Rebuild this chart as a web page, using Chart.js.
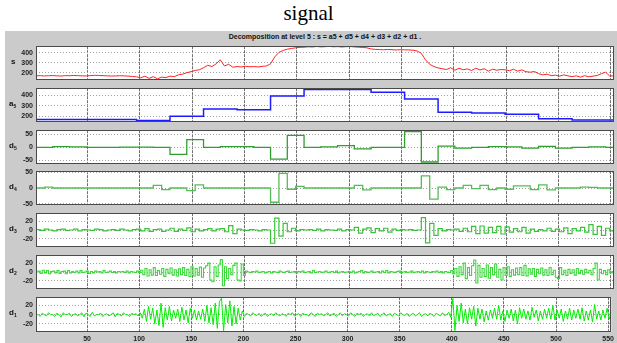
<!DOCTYPE html>
<html>
<head>
<meta charset="utf-8">
<script src="https://cdn.jsdelivr.net/npm/chart.js@4.4.1/dist/chart.umd.min.js"></script>
<style>
  body { margin: 0; width: 617px; height: 343px; position: relative; overflow: hidden; background: #fff; font-family: "Liberation Sans", Arial, sans-serif; }
  #title { position: absolute; left: 0; top: 0; width: 617px; text-align: center; font-family: "Liberation Serif", "Times New Roman", serif; font-size: 21px; line-height: 26px; }
  #panel { position: absolute; left: 5px; top: 31px; width: 612px; height: 312px; background: #cbcbcb; }
  #sub { position: absolute; left: 0; top: 32px; width: 650px; text-align: center; font-size: 7px; font-weight: bold; color: #111; line-height: 10px; }
  .box { position: absolute; left: 0; }
  .lab { position: absolute; font-weight: bold; font-size: 8px; color: #111; line-height: 8px; }
  .lab sub { font-size: 5px; vertical-align: -2px; }
</style>
</head>
<body>
<div id="title">signal</div>
<div id="panel"></div>
<div id="sub">Decomposition at level 5 : s = a5 + d5 + d4 + d3 + d2 + d1 .</div>
<div id="charts"></div>
<script>
// x axis: sample index
const xMin = 1;
const xMax = 553;
const xTicks = [50, 100, 150, 200, 250, 300, 350, 400, 450, 500, 550];

// signal s, one value every 4 samples (x = 1, 5, 9, ...)
const sStep = 4;
const sValues = [
  168, 170, 167, 169, 171, 168, 166, 170, 169, 172, 170, 168, 167, 171, 173, 172, 170, 168, 166, 167, 169, 168, 165, 162,
  158, 148, 165, 142, 160, 138, 155, 150,
  165, 160, 178, 185, 200, 210, 222, 230,
  250, 275, 262, 290, 330, 268, 285, 255,
  262, 258, 265, 260, 262, 258, 264, 268,
  290, 360, 405, 425, 438, 445, 452, 456,
  458, 462, 460, 465, 461, 463, 466, 462, 464, 460, 463, 465, 461, 458, 455, 452,
  440, 436, 434, 432, 435, 433, 430, 432,
  432, 430, 428, 420, 395, 330, 285, 262,
  248, 240, 232, 250, 225, 245, 230, 238,
  222, 245, 228, 240, 215, 235, 225, 232,
  230, 220, 235, 215, 228, 210, 205, 212,
  190, 178, 185, 170, 175, 165, 178, 168,
  160, 168, 155, 170, 158, 165, 172, 190, 205, 165, 170
];

// approximation a5, one value per 32-sample block
const a5Block = 32;
const a5Values = [168, 168, 168, 157, 198, 268, 262, 395, 458, 458, 432, 366, 238, 230, 218, 174, 163, 163];

// detail d5, one value per 16-sample block
const d5Block = 16;
const d5Values = [
  0, 3, 2, 0, 0, 1, 1, 0, -27, 30, 0, 3, 3, 0, -46, 47, 0, 2,
  7, -6, 0, 0, 62, -57, 5, -3, 0, 3, 2, -3, 4, -3, 0, 2, 0
];

// detail d4, one value per 8-sample block
const d4Block = 8;
const d4Values = [
  0, 3, 0, 0, 0, 0, 0, 0, 0, 0, 0, 0, 0, 0, 8, -5,
  0, 0, -8, 10, 0, 0, 0, 0, 0, 0, 0, 0, -45, 46, -4, 5,
  0, 0, 0, 0, 0, 0, 8, -6, 0, 0, 0, 0, 0, 0, 38, -35,
  3, -5, 0, 8, -2, 8, -5, 0, -4, 7, 7, -5, 10, -6, 0, 0,
  0, 3, 2, 0, 0, 0
];

// detail d3, one value per 4-sample block
const d3Block = 4;
const d3Values = [
  1, -1, 2, 0, -2, 1, 2, -1, 0, 2, -2, 1, 0, -1, 2, 1, -2, 0, 1, -1, 2, 0, -2, 1,
  2, -2, 3, -3, 1, 2, -3, 0, 4, -3, 2, -1,
  5, -4, 2, -2, 1, 3, -2, 2, 3, -4, 10, -8,
  2, 0, -1, 1, 0, -2, 1, 0,
  -30, 27, -14, 15, -4, 4, -2, 1,
  0, 1, -1, 2, -2, 1, 0, -1, 2, -2, 1, 0,
  6, -7, 2, 5, -6, 3, -2, 4, -5, 2, -1, 1,
  0, 1, -1, 0,
  28, -29, 15, -12, 3, -2, 1, 0,
  2, -3, 4, -4, 8, -8, 9, -7, 6, -6, 8, -9,
  7, -5, 3, -4, 6, -7, 2, -3, 1, -2, 4, -3,
  2, -4, 5, -8, 3, -2, 6, -5, 12, -10, 8, -12, 4, -2, 0
];

// detail d2, one value per 2-sample block
const d2Block = 2;
const d2Values = [
  0, 2, -3, 4, -2, 3, -4, 1, 2, -2,   3, -3, 1, 2, -4, 3, -2, 1, -1, 2,
  -2, 3, -1, 0, 2, -3, 1, -2, 2, 0,   1, -2, 3, -1, 0, 2, -1, 1, -2, 1,
  0, 1, -1, 2, -2, 1, 0, -1, 2, -1,   4, -6, 8, -9, 5, -7, 10, -8, 3, -5,
  8, -10, 6, -4, 9, -7, 5, -9, 7, -6,   10, -8, 6, -10, 12, -9, 8, -7, 11, -12,
  9, 14, 20, -18, -22, 12, -10, 16, 28, -31,   12, -15, 8, -6, 15, 20, -18, -20, 18, -8,
  2, 0, -1, 1, 0, 2, -1, 0, 1, -2,   0, 1, -2, 1, 0, -1, 2, 0, -1, 1,
  2, -1, 0, 1, -2, 1, 0, 2, -1, 0,   1, -2, 3, -1, 0, 1, -1, 0, 2, -1,
  0, 1, -1, 2, -2, 0, 1, -1, 0, 1,   -1, 2, -2, 0, 1, 3, -2, 1, -1, 0,
  2, -1, 0, 1, -2, 2, -1, 3, -2, 1,   0, -1, 1, 2, -2, 0, 1, -1, 0, 2,
  -1, 0, 1, -1, 2, -2, 1, 0, -1, 1,   0, 2, -1, 1, -2, 1, 0, -1, 3, -4,
  8, -10, 12, -6, 20, -15, 10, -8, 14, 27,   -25, 15, -12, 8, -10, 16, -14, 10, -6, 18,
  -12, 6, -18, 10, -8, 12, -10, 5, -7, 9,   -6, 10, -8, 15, -9, 7, -5, 8, -10, 6,
  -4, 9, -7, 5, -8, 10, -6, 4, -12, -15,   10, -6, 4, -8, 6, -3, 5, -7, 8, -4,
  3, -5, 6, -2, 4, -6, 8, 20, -18, 6,   -4, 3, -6, 5, -2, 1, -3
];

// detail d1, one value every 2 samples (x = 1, 3, 5, ...)
const d1Step = 2;
const d1Values = [
  0, 0, -4, 3, 0, -3, 4, 0, 0, -4,   3, 0, -5, 4, 0, 0, 3, -4, 0, 2,
  -3, 0, 4, -5, 3, 0, -4, 5, -3, 0,   0, 3, -4, 0, 2, -3, 0, 4, -5, 3,
  0, -3, 4, 0, 0, -4, 3, 0, 2, -3,   4, -8, 12, -15, 18, -10, 14, -20, 10, -24,
  25, -28, 15, -12, 18, -14, 10, -8, 12, -15,   16, -12, 10, -18, 14, -8, 10, -12, 8, -10,
  12, -15, 20, -18, 15, -22, 25, -30, 28, 36,   -35, 22, -18, 30, -25, 18, -20, 14, -12, 8,
  -4, 3, 0, -3, 4, 0, -2, 3, -4, 0,   3, -4, 0, 2, -3, 4, 0, -3, 2, 0,
  -4, 3, 0, 4, -3, 0, 2, -4, 3, 0,   0, -3, 4, 0, -4, 3, 0, 2, -3, 0,
  4, -3, 0, 3, -4, 0, 4, -3, 2, 0,   -3, 4, 0, -4, 3, 0, 3, -4, 0, 2,
  -3, 4, -2, 0, 3, -4, 0, 4, -3, 0,   2, -4, 3, 0, -3, 4, 0, -2, 3, -4,
  0, 3, -3, 0, 4, -4, 0, 2, -3, 3,   0, -4, 3, 0, -3, 4, -2, 0, 5, -6,
  35, -35, 20, -15, 25, -18, 12, -20, 15, -10,   18, -25, 14, -10, 12, -16, 8, -12, 10, -8,
  14, -10, 20, -12, 8, -15, 10, -8, 12, -14,   10, -20, 15, -8, 12, -10, 8, -12, 16, -6,
  10, -14, 8, -10, 12, -8, 14, -10, 20, -12,   10, -8, 12, -15, 8, -10, 14, -12, 10, -8,
  12, -10, 15, -14, 8, -12, 10, -16, 22, -10,   8, -12, 10, -8, 14, -10, 6
];

// y tick labels per panel
const sTicks = [200, 300, 400];
const aTicks = [200, 300, 400];
const d5Ticks = [-50, 0, 50];
const d4Ticks = [-50, 0, 50];
const d3Ticks = [-20, 0, 20];
const d2Ticks = [-20, 0, 20];
const d1Ticks = [-20, 0, 20];

function linePoints(values, step) {
  return values.map((v, i) => ({ x: xMin + i * step, y: v }));
}
// one point at the start of each block, plus one closing the last block
function blockPoints(values, width) {
  const pts = values.map((v, i) => ({ x: xMin + i * width, y: v }));
  pts.push({ x: xMin + values.length * width, y: values[values.length - 1] });
  return pts;
}

// chart.js 'before' = hold the previous value, jump at the next point
const panels = [
  { name: 's', sub: '', data: linePoints(sValues, sStep), stepped: false, color: '#ff2424', width: 1, min: 128, max: 468, ticks: sTicks },
  { name: 'a', sub: '5', data: blockPoints(a5Values, a5Block), stepped: 'before', color: '#1c1cff', width: 1.5, min: 145, max: 470, ticks: aTicks },
  { name: 'd', sub: '5', data: blockPoints(d5Values, d5Block), stepped: 'before', color: '#2f9f2f', width: 1.3, min: -64, max: 67, ticks: d5Ticks },
  { name: 'd', sub: '4', data: blockPoints(d4Values, d4Block), stepped: 'before', color: '#55bd55', width: 1.3, min: -53, max: 53, ticks: d4Ticks },
  { name: 'd', sub: '3', data: blockPoints(d3Values, d3Block), stepped: 'before', color: '#36c436', width: 1.2, min: -38, max: 38, ticks: d3Ticks },
  { name: 'd', sub: '2', data: blockPoints(d2Values, d2Block), stepped: 'before', color: '#38da38', width: 1.1, min: -38, max: 38, ticks: d2Ticks },
  { name: 'd', sub: '1', data: linePoints(d1Values, d1Step), stepped: false, color: '#00ee00', width: 1, min: -38, max: 38, ticks: d1Ticks }
];

const frameTop0 = 45, frameGap = 41.8, frameH = 36, padTop = 6, padBot = 6, xAxisH = 14;
const tickFont = { family: '"Liberation Sans", Arial, sans-serif', size: 7, weight: 'bold' };

const framePlugin = {
  id: 'frame',
  beforeDraw(chart) {
    const a = chart.chartArea, ctx = chart.ctx;
    ctx.save();
    ctx.fillStyle = '#ffffff';
    ctx.fillRect(a.left, a.top, a.right - a.left, a.bottom - a.top);
    ctx.restore();
  },
  afterDraw(chart) {
    const a = chart.chartArea, ctx = chart.ctx;
    ctx.save();
    ctx.strokeStyle = '#4a4a4a';
    ctx.lineWidth = 1;
    ctx.strokeRect(Math.round(a.left) + 0.5, Math.round(a.top) + 0.5, Math.round(a.right - a.left) - 1, Math.round(a.bottom - a.top) - 1);
    ctx.restore();
  }
};

const holder = document.getElementById('charts');
panels.forEach((p, i) => {
  const last = i === panels.length - 1;
  const top = Math.round(frameTop0 + i * frameGap);
  const h = padTop + frameH + (last ? xAxisH : padBot);
  const box = document.createElement('div');
  box.className = 'box';
  box.style.top = (top - padTop) + 'px';
  const cv = document.createElement('canvas');
  cv.width = 617; cv.height = h;
  box.appendChild(cv);
  holder.appendChild(box);

  const lab = document.createElement('div');
  lab.className = 'lab';
  lab.innerHTML = p.name + (p.sub ? '<sub>' + p.sub + '</sub>' : '');
  lab.style.left = (p.sub ? 9 : 11) + 'px';
  lab.style.top = (top + frameH / 2 - 5) + 'px';
  document.body.appendChild(lab);

  new Chart(cv, {
    type: 'line',
    data: {
      datasets: [{
        data: p.data,
        borderColor: p.color,
        borderWidth: p.width,
        stepped: p.stepped,
        pointRadius: 0,
        tension: 0,
        fill: false
      }]
    },
    options: {
      responsive: false,
      animation: false,
      events: [],
      layout: { padding: { left: 0, right: 3, top: padTop, bottom: last ? 0 : padBot } },
      plugins: { legend: { display: false }, tooltip: { enabled: false } },
      scales: {
        x: {
          type: 'linear',
          min: xMin,
          max: xMax,
          afterBuildTicks: s => { s.ticks = xTicks.map(v => ({ value: v })); },
          afterFit: s => { s.height = last ? xAxisH : 0; },
          grid: { color: '#6e6e6e', lineWidth: 1, drawTicks: false },
          border: { display: false, dash: [3, 1] },
          ticks: { display: last, font: tickFont, color: '#222', padding: 3, maxRotation: 0 }
        },
        y: {
          min: p.min,
          max: p.max,
          afterBuildTicks: s => { s.ticks = p.ticks.map(v => ({ value: v })); },
          afterFit: s => { s.width = 36; },
          grid: { color: '#a0a0a0', lineWidth: 1, drawTicks: false },
          border: { display: false, dash: [1, 2] },
          ticks: { font: tickFont, color: '#222', padding: 3, autoSkip: false }
        }
      }
    },
    plugins: [framePlugin]
  });
});
</script>
</body>
</html>
